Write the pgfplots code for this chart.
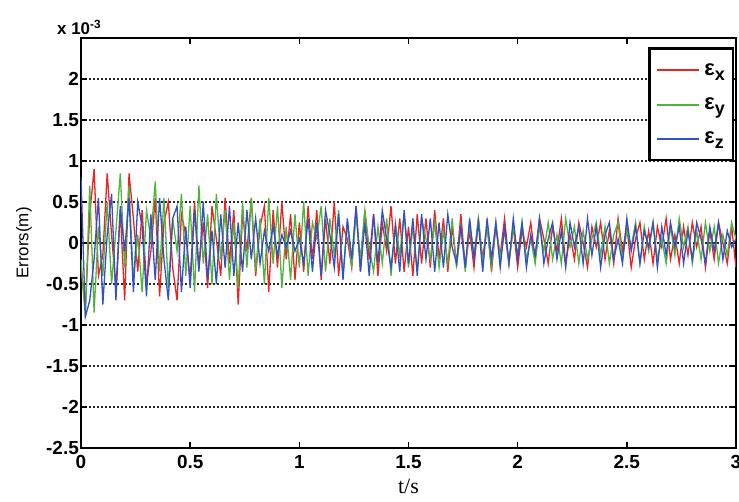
\documentclass[border=0pt]{standalone}
\usepackage{pgfplots}
\pgfplotsset{compat=1.18}
\usepackage{pgfplotstable}
\usepackage{fontspec}
\setmainfont{Liberation Sans}
\newfontfamily\seriffont{Liberation Serif}
\definecolor{cr}{RGB}{235,35,35}
\definecolor{cg}{RGB}{80,180,60}
\definecolor{cb}{RGB}{50,80,200}

\pgfplotstableread{
t x y z
0.00 -0.30 -0.20 0.80
0.02 -0.80 -0.90 -0.90
0.04 0.35 0.70 -0.70
0.06 0.90 -0.85 -0.20
0.08 -0.40 0.20 0.55
0.10 -0.15 -0.40 -0.75
0.12 0.85 0.50 0.10
0.14 0.10 -0.50 0.60
0.16 -0.55 0.15 -0.70
0.18 0.40 0.85 0.45
0.20 -0.70 -0.30 -0.10
0.22 0.85 0.70 0.55
0.24 0.30 -0.45 -0.60
0.26 -0.35 0.10 0.50
0.28 0.40 -0.60 0.20
0.30 -0.50 0.40 -0.65
0.32 -0.10 0.05 0.35
0.34 0.55 0.75 -0.45
0.36 -0.65 -0.35 0.55
0.38 0.25 0.55 -0.20
0.40 0.50 -0.55 -0.70
0.42 -0.30 0.30 0.30
0.44 -0.70 -0.10 0.45
0.46 0.35 0.60 -0.60
0.48 0.10 -0.40 0.20
0.50 -0.45 0.45 -0.55
0.52 0.50 -0.60 0.40
0.54 -0.30 0.70 -0.35
0.56 0.25 -0.25 0.50
0.58 -0.55 0.35 -0.45
0.60 0.45 -0.50 0.15
0.62 0.05 0.60 -0.50
0.64 -0.40 -0.20 0.35
0.66 0.55 0.40 -0.30
0.68 -0.25 -0.45 0.45
0.70 0.40 0.25 -0.40
0.72 -0.75 -0.55 0.25
0.74 0.35 0.50 -0.35
0.76 -0.10 -0.30 0.40
0.78 0.55 0.55 -0.20
0.80 -0.40 -0.35 0.30
0.82 0.20 0.30 -0.25
0.84 0.45 -0.50 0.15
0.86 -0.60 0.55 -0.10
0.88 0.40 -0.25 0.20
0.90 -0.30 0.45 -0.15
0.92 0.50 -0.55 0.10
0.94 -0.20 0.20 -0.05
0.96 0.35 -0.45 0.15
0.98 -0.45 0.35 -0.10
1.00 0.25 -0.30 0.05
1.02 -0.35 0.50 -0.25
1.04 0.45 -0.40 0.30
1.06 -0.20 0.25 -0.35
1.08 0.40 0.05 0.25
1.10 -0.45 0.45 -0.40
1.12 0.30 -0.35 0.40
1.14 -0.25 0.30 0.10
1.16 0.50 -0.15 -0.30
1.18 -0.40 0.40 0.35
1.20 0.20 -0.40 -0.45
1.22 0.05 0.25 0.30
1.24 -0.30 -0.30 -0.20
1.26 0.45 0.35 0.45
1.28 -0.35 -0.20 -0.35
1.30 0.40 0.40 0.25
1.32 -0.20 -0.05 -0.40
1.34 0.35 -0.35 0.35
1.36 -0.40 0.20 -0.25
1.38 0.25 -0.25 0.40
1.40 -0.10 0.30 0.05
1.42 0.45 -0.40 -0.30
1.44 -0.25 0.25 0.20
1.46 0.30 -0.15 -0.35
1.48 -0.35 0.35 0.40
1.50 0.20 -0.30 -0.25
1.52 -0.40 0.20 0.30
1.54 0.35 -0.35 -0.40
1.56 -0.25 0.30 0.35
1.58 0.30 0.05 -0.20
1.60 -0.30 -0.20 0.30
1.62 0.40 0.25 -0.35
1.64 -0.20 -0.30 0.25
1.66 0.30 0.15 -0.30
1.68 -0.35 -0.25 0.35
1.70 0.20 0.30 -0.05
1.72 -0.25 -0.30 -0.25
1.74 0.35 0.20 0.20
1.76 -0.30 -0.35 -0.30
1.78 0.15 0.25 0.30
1.80 -0.30 -0.15 -0.20
1.82 0.30 0.30 0.25
1.84 -0.20 -0.25 -0.35
1.86 0.25 0.20 0.30
1.88 -0.35 -0.30 -0.20
1.90 0.20 0.25 0.25
1.92 -0.15 -0.20 -0.30
1.94 0.30 0.15 0.20
1.96 -0.25 -0.25 -0.25
1.98 0.20 0.20 0.30
2.00 -0.30 -0.15 -0.20
2.02 0.15 0.25 0.25
2.04 -0.05 -0.20 -0.30
2.06 0.25 0.05 0.10
2.08 -0.20 -0.25 -0.15
2.10 0.30 0.20 0.30
2.12 0.05 -0.10 -0.25
2.14 -0.25 0.25 0.05
2.16 0.20 -0.20 0.25
2.18 -0.10 0.10 -0.20
2.20 0.30 -0.25 0.15
2.22 -0.25 0.30 -0.30
2.24 0.10 -0.05 0.25
2.26 -0.20 0.20 -0.05
2.28 0.25 -0.25 0.20
2.30 0.00 0.15 -0.25
2.32 -0.30 -0.20 0.30
2.34 0.20 0.05 -0.15
2.36 -0.05 0.25 0.20
2.38 0.25 -0.15 -0.30
2.40 -0.20 0.20 0.10
2.42 0.15 -0.25 0.25
2.44 -0.25 0.10 -0.20
2.46 0.30 0.25 0.05
2.48 -0.10 -0.20 -0.25
2.50 0.20 0.15 0.30
2.52 -0.30 -0.05 -0.10
2.54 0.05 0.25 0.20
2.56 0.25 -0.25 -0.25
2.58 -0.20 0.20 0.15
2.60 0.15 -0.10 -0.05
2.62 -0.25 0.25 0.25
2.64 0.20 -0.20 -0.30
2.66 -0.05 0.05 0.20
2.68 0.30 -0.25 -0.15
2.70 -0.20 0.20 0.25
2.72 0.10 -0.15 -0.05
2.74 -0.25 0.30 0.20
2.76 0.20 -0.05 -0.25
2.78 -0.15 0.20 0.15
2.80 0.25 -0.25 -0.20
2.82 -0.05 0.15 0.25
2.84 0.20 -0.20 0.05
2.86 -0.30 0.25 -0.25
2.88 0.15 -0.10 0.20
2.90 -0.20 0.20 -0.10
2.92 0.25 -0.25 0.25
2.94 0.00 0.10 -0.20
2.96 -0.25 -0.15 0.15
2.98 0.20 0.25 -0.05
3.00 -0.30 0.05 0.05
}\datatable

\newcommand{\legline}[1]{\textcolor{#1}{\rule[0.4ex]{42bp}{2bp}}\hspace{5bp}}
\newcommand{\eps}[1]{{\fontsize{22}{22}\selectfont ε}\raisebox{-0.55ex}{#1}}

\begin{document}
\begin{tikzpicture}
\useasboundingbox (-81bp,-54bp) rectangle (658bp,448bp);
\begin{axis}[
  at={(0,0)}, anchor=south west, scale only axis,
  width=655bp, height=410bp,
  xmin=0, xmax=3, ymin=-2.5, ymax=2.5,
  xtick={0,0.5,1,1.5,2,2.5,3},
  ytick={-2.5,-2,-1.5,-1,-0.5,0,0.5,1,1.5,2},
  tick align=inside, major tick length=6bp,
  axis line style={line width=2.5bp},
  every tick/.style={black, line width=1.5bp},
  ymajorgrids,
  grid style={black!85, dash pattern=on 2bp off 2bp, line width=1.1bp},
  /pgf/number format/assume math mode=true,
  tick label style={font=\bfseries\fontsize{19}{19}\selectfont},
  xticklabel style={inner sep=1bp, yshift=-6bp},
  yticklabel style={inner sep=2bp},
  scaled y ticks=false,
  xlabel={t/s},
  xlabel style={font=\seriffont\fontsize{22}{22}\selectfont, at={(axis description cs:0.5,-0.094)}, anchor=center},
  ylabel={Errors(m)},
  ylabel style={font=\fontsize{17}{17}\selectfont, at={(axis description cs:-0.087,0.5)}, anchor=center},
  legend style={at={(0.997,0.978)}, anchor=north east, draw=black, line width=2.5bp,
    font=\bfseries\fontsize{18}{18}\selectfont, row sep=17bp, inner xsep=6bp, inner ysep=13bp},
  legend cell align=left,
  legend image code/.code={},
]
\addplot[color=cr, line width=1.3bp] table[x=t, y=x] {\datatable};
\addplot[color=cg, line width=1.3bp] table[x=t, y=y] {\datatable};
\addplot[color=cb, line width=1.3bp] table[x=t, y=z] {\datatable};
\legend{\legline{cr}\eps{x}, \legline{cg}\eps{y}, \legline{cb}\eps{z}}
\end{axis}
\node[anchor=base west, font=\bfseries\fontsize{17}{17}\selectfont, inner sep=0pt] at (-24bp,413bp) {x 10\textsuperscript{-3}};
\end{tikzpicture}
\end{document}
